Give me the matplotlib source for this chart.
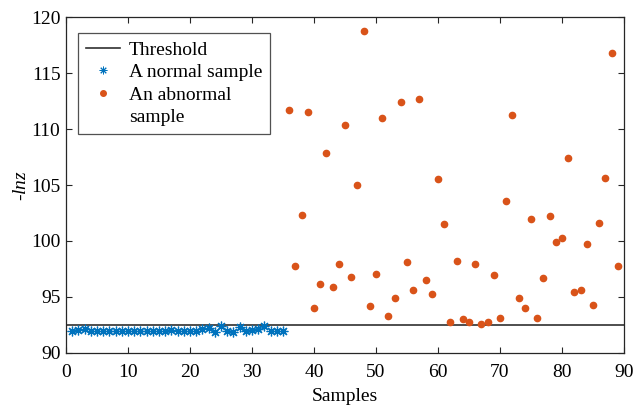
import matplotlib
matplotlib.use("Agg")
import matplotlib.pyplot as plt
from matplotlib.lines import Line2D
import numpy as np

threshold = 92.45

normal_x = list(range(1, 36))
normal_y = [91.95, 92.05, 92.15, 91.95, 91.95, 92.0, 91.95, 92.0, 91.95, 92.0,
            91.95, 92.0, 91.95, 92.0, 91.95, 92.0, 92.05, 91.95, 92.0, 92.0,
            91.95, 92.1, 92.2, 91.85, 92.4, 92.0, 91.9, 92.3, 92.0, 92.05,
            92.1, 92.4, 91.95, 92.0, 91.95]

abnormal_x = list(range(36, 90))
abnormal_y = [111.7, 97.8, 102.3, 111.5, 94.0, 96.2, 107.9, 95.9, 97.9, 110.4,
              96.8, 105.0, 118.8, 94.2, 97.05, 111.0, 93.3, 94.9, 112.4, 98.1,
              95.6, 112.7, 96.5, 95.3, 105.5, 101.5, 92.8, 98.2, 93.0, 92.8,
              97.9, 92.6, 92.8, 97.0, 93.1, 103.6, 111.3, 94.9, 94.0, 102.0,
              93.1, 96.7, 102.2, 99.9, 100.3, 107.4, 95.4, 95.6, 99.7, 94.3,
              101.6, 105.6, 116.8, 97.8]

legend_labels = ['Threshold', 'A normal sample', 'An abnormal', 'sample']

xticks = [0, 10, 20, 30, 40, 50, 60, 70, 80, 90]
yticks = [90, 95, 100, 105, 110, 115, 120]

plt.rcParams['font.family'] = ['Liberation Serif', 'DejaVu Serif']
plt.rcParams['mathtext.fontset'] = 'custom'
plt.rcParams['mathtext.it'] = 'Liberation Serif:italic'

fig = plt.figure(figsize=(6.38, 4.08), dpi=100)
ax = fig.add_axes([0.1034, 0.135, 0.8746, 0.823])

axc = '#262626'
h0, = ax.plot([0, 90], [threshold, threshold], color='#303030', lw=1.2)
h1, = ax.plot(normal_x, normal_y, linestyle='none', marker=(8, 2, 0), ms=7, mew=0.9,
              color='#0072BD')
h2, = ax.plot(abnormal_x, abnormal_y, linestyle='none', marker='o', ms=4.5,
              color='#D95319', mec='#D95319')

ax.set_xlim(0, 90)
ax.set_ylim(90, 120)
ax.set_xticks(xticks)
ax.set_yticks(yticks)
ax.tick_params(direction='in', top=True, right=True, labelsize=14, colors=axc,
               length=4, width=0.8)
ax.tick_params(axis='x', pad=8)
ax.tick_params(axis='y', pad=4)
for s in ax.spines.values():
    s.set_color(axc)
    s.set_linewidth(0.9)
for lab in ax.get_xticklabels() + ax.get_yticklabels():
    lab.set_color('black')

ax.set_xlabel('Samples', fontsize=14, labelpad=5)
ax.set_ylabel('-$lnz$', fontsize=14, labelpad=1)

lh1 = Line2D([], [], linestyle='none', marker=(8, 2, 0), ms=5.5, mew=0.7, color='#0072BD')
lh2 = Line2D([], [], linestyle='none', marker='o', ms=4, color='#D95319')
lh3 = Line2D([], [], linestyle='none', marker=None)
leg = ax.legend([h0, lh1, lh2, lh3], legend_labels,
                loc='upper left', bbox_to_anchor=(0.022, 0.952), fontsize=14,
                frameon=True, fancybox=False, edgecolor=axc, borderpad=0.4,
                labelspacing=0.25, handlelength=1.75, handletextpad=0.45,
                borderaxespad=0)
leg.get_frame().set_linewidth(0.9)

fig.savefig('out.png', dpi=100)
